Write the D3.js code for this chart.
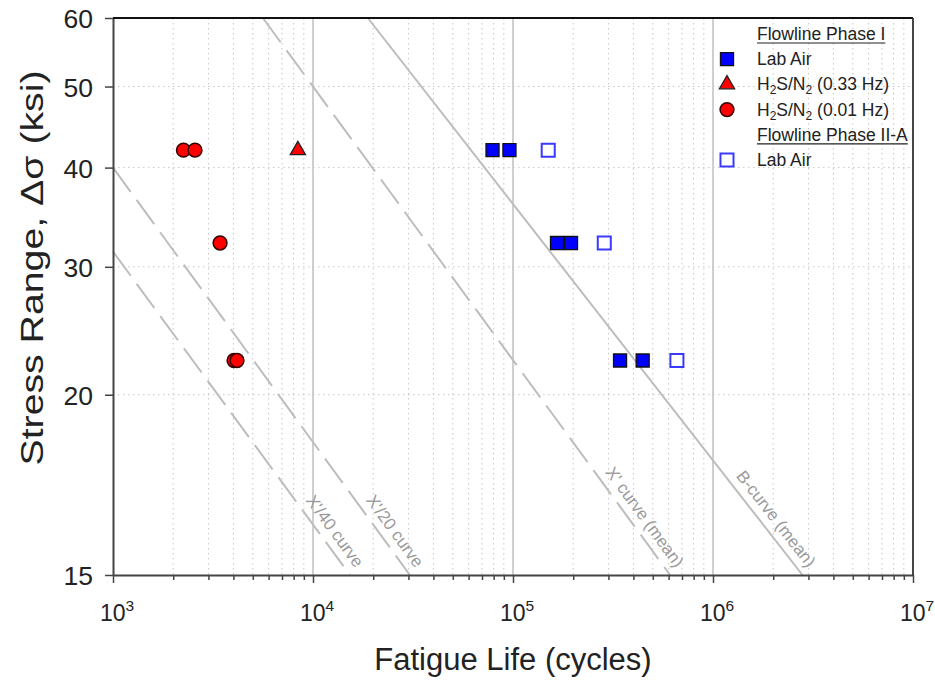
<!DOCTYPE html>
<html><head><meta charset="utf-8">
<script src="https://cdn.jsdelivr.net/npm/d3@7/dist/d3.min.js"></script>
<style>body{margin:0;background:#fff}svg{display:block}</style>
</head><body>
<svg id="chart" width="935" height="683"></svg>
<script>
// ---------- data ----------
const phase1LabAirN = [79000, 96000, 166000, 195000, 343000, 445000];
const phase1LabAirS = [42, 42, 32.2, 32.2, 22.4, 22.4];
const h2s033N = [8400];
const h2s033S = [42];
const h2s001N = [2250, 2570, 3430, 4030, 4170];
const h2s001S = [42, 42, 32.2, 22.4, 22.4];
const phase2LabAirN = [150000, 286000, 660000];
const phase2LabAirS = [42, 32.2, 22.4];

const curveNames = ["X'/40 curve", "X'/20 curve", "X' curve (mean)", "B-curve (mean)"];
const curveDashed = [true, true, true, false];
const curveN = [[1000, 15300], [1000, 30500], [5620, 610000], [18800, 2800000]];
const curveS = [[31.4, 15], [40, 15], [60, 15], [60, 15]];

const xMajorTicks = [1e3, 1e4, 1e5, 1e6, 1e7];
const xTickExp = ["3", "4", "5", "6", "7"];
const yTickValues = [15, 20, 30, 40, 50, 60];
const yGridValues = [20, 30, 40, 50];

const legendLabels = ["Flowline Phase I", "Lab Air", "H2S/N2 (0.33 Hz)", "H2S/N2 (0.01 Hz)", "Flowline Phase II-A", "Lab Air"];
const legendKinds = ["header", "labair1", "tri", "circ", "header", "labair2"];

// ---------- layout ----------
const W = 935, H = 683;
const L = 113, R = 913, T = 18, B = 575;
const svg = d3.select("#chart");
const FONT = "'Liberation Sans', Arial, Helvetica, sans-serif";

const x = d3.scaleLog().domain([1e3, 1e7]).range([L, R]);
// the printed y labels are placed on a log grid (15 -> 20, 20..60 -> 30..70)
const yVal = d3.scaleLinear().domain([15, 20, 60]).range([20, 30, 70]);
const yLog = d3.scaleLog().domain([20, 70]).range([B, T]);
const y = v => yLog(yVal(v));

const gridCol = "#c6c6c6";
// minor vertical dotted grid
const xMinor = [];
for (let e = 3; e < 7; e++) for (let k = 2; k <= 9; k++) xMinor.push(k * Math.pow(10, e));
svg.append("g").selectAll("line").data(xMinor).join("line")
  .attr("x1", d => x(d)).attr("x2", d => x(d)).attr("y1", T).attr("y2", B)
  .attr("stroke", gridCol).attr("stroke-width", 1).attr("stroke-dasharray", "1.5,3.5");
// horizontal dotted grid
svg.append("g").selectAll("line").data(yGridValues).join("line")
  .attr("x1", L).attr("x2", R).attr("y1", d => y(d)).attr("y2", d => y(d))
  .attr("stroke", gridCol).attr("stroke-width", 1).attr("stroke-dasharray", "1.5,3.5");
// major vertical solid grid
svg.append("g").selectAll("line").data(xMajorTicks.slice(1, 4)).join("line")
  .attr("x1", d => x(d)).attr("x2", d => x(d)).attr("y1", T).attr("y2", B)
  .attr("stroke", "#cfcfcf").attr("stroke-width", 2);

// ---------- S-N curves ----------
const curves = curveNames.map((n, i) => ({
  name: n, dashed: curveDashed[i],
  p0: [x(curveN[i][0]), y(curveS[i][0])], p1: [x(curveN[i][1]), y(curveS[i][1])]
}));
const line = d3.line();
svg.append("g").selectAll("path").data(curves).join("path")
  .attr("d", d => line([d.p0, d.p1]))
  .attr("fill", "none").attr("stroke", "#bdbdbd").attr("stroke-width", 2)
  .attr("stroke-dasharray", d => d.dashed ? "30,10" : null);
svg.append("g").selectAll("text").data(curves).join("text")
  .attr("transform", d => {
    const dx = d.p1[0] - d.p0[0], dy = d.p1[1] - d.p0[1];
    const len = Math.hypot(dx, dy), ux = dx / len, uy = dy / len;
    const ang = Math.atan2(dy, dx) * 180 / Math.PI;
    const px = uy, py = -ux;
    const ox = d.p1[0] - ux * 2 + px * 8, oy = d.p1[1] - uy * 2 + py * 8;
    return `translate(${ox},${oy}) rotate(${ang})`;
  })
  .attr("text-anchor", "end").attr("font-family", FONT).attr("font-size", 17)
  .attr("fill", "#9a9a9a").text(d => d.name);

// ---------- axes ----------
const gx = svg.append("g").attr("transform", `translate(0,${B})`)
  .call(d3.axisBottom(x).tickValues(xMajorTicks).tickFormat("").tickSize(8).tickSizeOuter(0));
const gxm = svg.append("g").attr("transform", `translate(0,${B})`)
  .call(d3.axisBottom(x).tickValues(xMinor).tickFormat("").tickSize(5).tickSizeOuter(0));
gxm.select(".domain").remove();
[gx, gxm].forEach(g => g.selectAll("line").attr("stroke", "#444").attr("stroke-width", 1.5));
gx.select(".domain").attr("stroke", "#444").attr("stroke-width", 2);

const xl = svg.append("g").selectAll("text").data(xMajorTicks).join("text")
  .attr("x", d => x(d) + 4).attr("y", 621).attr("text-anchor", "middle")
  .attr("font-family", FONT).attr("font-size", 23).attr("fill", "#222");
xl.append("tspan").text("10");
xl.append("tspan").attr("dy", -10).attr("font-size", 15.5).text((d, i) => xTickExp[i]);

const gy = svg.append("g").attr("transform", `translate(${L},0)`)
  .call(d3.axisLeft(yLog).tickValues(yTickValues.map(yVal))
    .tickFormat(d => d3.format("d")(Math.round(yVal.invert(d)))).tickSize(8).tickSizeOuter(0).tickPadding(12));
gy.select(".domain").attr("stroke", "#444").attr("stroke-width", 2);
gy.selectAll("line").attr("stroke", "#444").attr("stroke-width", 1.5);
gy.selectAll("text").attr("font-family", FONT).attr("font-size", 26.5).attr("fill", "#222").attr("dy", "0.36em");

// frame: top and right
svg.append("line").attr("x1", L).attr("x2", R).attr("y1", T).attr("y2", T).attr("stroke", "#111").attr("stroke-width", 2.2);
svg.append("line").attr("x1", R).attr("x2", R).attr("y1", T).attr("y2", B).attr("stroke", "#333").attr("stroke-width", 1.8);

// axis titles
svg.append("text").attr("x", 513).attr("y", 670).attr("text-anchor", "middle")
  .attr("font-family", FONT).attr("font-size", 31).attr("fill", "#222").text("Fatigue Life (cycles)");
const yt = svg.append("text").attr("transform", "translate(43,268) rotate(-90)").attr("text-anchor", "middle")
  .attr("font-family", FONT).attr("font-size", 31).attr("fill", "#222")
  .attr("textLength", 395).attr("lengthAdjust", "spacingAndGlyphs");
yt.text("Stress Range, \u0394\u03c3 (ksi)");

// ---------- markers ----------
const sq = d3.symbol().type(d3.symbolSquare).size(170);
const ci = d3.symbol().type(d3.symbolCircle).size(150);
const tr = d3.symbol().type(d3.symbolTriangle).size(100);
const style = {
  labair1: {sym: sq, fill: "#0000ff", stroke: "#111", sw: 1.3},
  labair2: {sym: sq, fill: "#ffffff", stroke: "#3a3aff", sw: 2},
  tri: {sym: tr, fill: "#ff0000", stroke: "#222", sw: 1.3},
  circ: {sym: ci, fill: "#ff0000", stroke: "#330000", sw: 1.5}
};
function drawPts(N, S, kind) {
  const st = style[kind];
  svg.append("g").selectAll("path").data(N.map((n, i) => [n, S[i]])).join("path")
    .attr("transform", d => `translate(${x(d[0])},${y(d[1])})`)
    .attr("d", st.sym).attr("fill", st.fill).attr("stroke", st.stroke).attr("stroke-width", st.sw);
}
drawPts(h2s001N, h2s001S, "circ");
drawPts(h2s033N, h2s033S, "tri");
drawPts(phase1LabAirN, phase1LabAirS, "labair1");
drawPts(phase2LabAirN, phase2LabAirS, "labair2");

// ---------- legend ----------
const lgX = 727, lgTx = 757, lgY0 = 34, lgDy = 25.2;
legendLabels.forEach((lab, i) => {
  const cy = lgY0 + i * lgDy, kind = legendKinds[i];
  const t = svg.append("text").attr("x", lgTx).attr("y", cy + 6)
    .attr("font-family", FONT).attr("font-size", 17.5).attr("fill", "#222");
  if (lab.startsWith("H2S/N2")) {
    t.append("tspan").text("H");
    t.append("tspan").attr("dy", 4).attr("font-size", 12).text("2");
    t.append("tspan").attr("dy", -4).text("S/N");
    t.append("tspan").attr("dy", 4).attr("font-size", 12).text("2");
    t.append("tspan").attr("dy", -4).text(lab.slice(6));
  } else t.text(lab);
  if (kind === "header") {
    const w = t.node().getComputedTextLength();
    svg.append("line").attr("x1", lgTx).attr("x2", lgTx + w).attr("y1", cy + 9).attr("y2", cy + 9)
      .attr("stroke", "#222").attr("stroke-width", 1.2);
  } else {
    const st = style[kind];
    svg.append("path").attr("transform", `translate(${lgX},${cy})`).attr("d", st.sym)
      .attr("fill", st.fill).attr("stroke", st.stroke).attr("stroke-width", st.sw);
  }
});
</script>
</body></html>
